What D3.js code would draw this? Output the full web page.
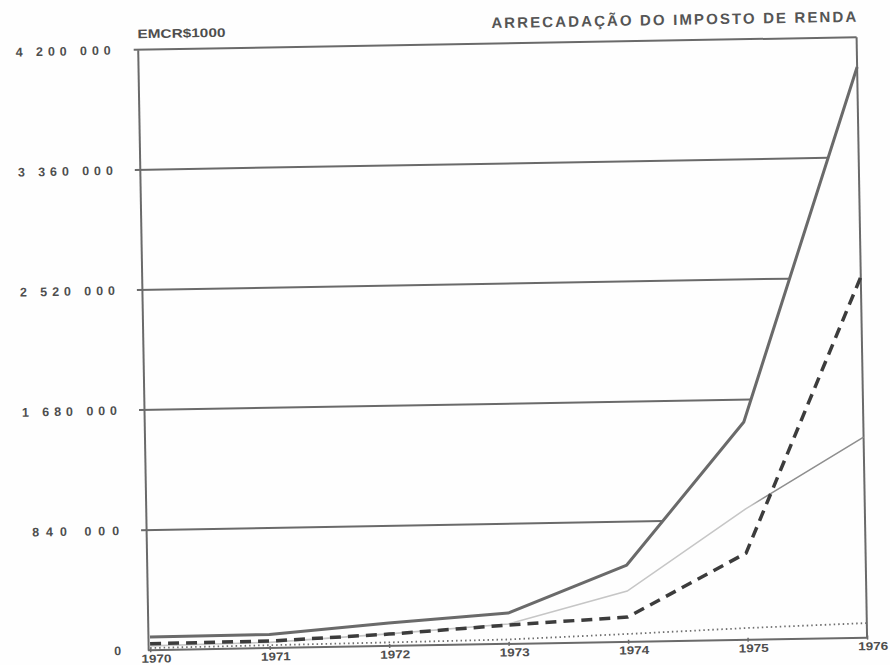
<!DOCTYPE html>
<html>
<head>
<meta charset="utf-8">
<script src="https://cdn.jsdelivr.net/npm/d3@7"></script>
<style>
  html, body { margin: 0; padding: 0; background: #fefefe; }
  svg { display: block; }
  text { font-family: "Liberation Sans", Arial, sans-serif; }
</style>
</head>
<body>
<svg id="chart" width="890" height="665"></svg>
<script>
// ---- data (Cr$ 1000) ----
const years = [1970, 1971, 1972, 1973, 1974, 1975, 1976];
const xTickLabels = ["1970", "1971", "1972", "1973", "1974", "1975", "1976"];
const totalSeries  = [92000, 95000, 160000, 216000, 537000, 1523000, 3992000];
const lightSeries  = [30000, 40000, 85000, 139000, 355000, 914000, 1403000];
const dashedSeries = [45000, 49000, 83000, 132000, 173000, 606000, 2523000];
const dottedSeries = [15000, 20000, 25000, 31000, 55000, 82000, 102000];
const yTicks = [0, 840000, 1680000, 2520000, 3360000, 4200000];
const yTickLabels = ["0", "840 000", "1 680 000", "2 520 000", "3 360 000", "4 200 000"];
const unitLabel = "EMCR$1000";
const titleText = "ARRECADAÇÃO DO IMPOSTO DE RENDA";

// ---- layout ----
const svg = d3.select("#chart");
const root = svg.append("g").attr("transform", "rotate(-1, 500, 350)");

const x = d3.scaleLinear().domain([1970, 1976]).range([145, 862]);
const y = d3.scaleLinear().domain([0, 4200000]).range([644, 43.5]);
const axisX = 143, rightX = 862;

const ink = "#6a6a6a";
const textInk = "#4e4e4e";

// gradient for light series (lighter on the left, darker on the right)
const defs = svg.append("defs");
const grad = defs.append("linearGradient").attr("id", "lightGrad")
  .attr("gradientUnits", "userSpaceOnUse")
  .attr("x1", x(1970)).attr("x2", x(1976)).attr("y1", 0).attr("y2", 0);
grad.append("stop").attr("offset", 0.84).attr("stop-color", "#c6c6c6");
grad.append("stop").attr("offset", 0.86).attr("stop-color", "#8e8e8e");

// gridlines: from axis to the point where the top series reaches the tick value
function crossYear(series, v) {
  for (let i = 0; i < series.length - 1; i++) {
    if (series[i] <= v && series[i + 1] >= v) {
      return years[i] + (v - series[i]) / (series[i + 1] - series[i]) * (years[i + 1] - years[i]);
    }
  }
  return years[years.length - 1];
}
const gridTicks = yTicks.filter(v => v > 0 && v < 4200000);
root.append("g").selectAll("line").data(gridTicks).join("line")
  .attr("x1", axisX - 5).attr("x2", d => x(crossYear(totalSeries, d)))
  .attr("y1", d => y(d)).attr("y2", d => y(d))
  .attr("stroke", ink).attr("stroke-width", 2);

// frame: top, right
root.append("line").attr("x1", axisX - 4).attr("x2", rightX)
  .attr("y1", y(4200000)).attr("y2", y(4200000))
  .attr("stroke", ink).attr("stroke-width", 2);
root.append("line").attr("x1", rightX).attr("x2", rightX)
  .attr("y1", y(4200000)).attr("y2", y(0))
  .attr("stroke", ink).attr("stroke-width", 2);

// Y axis
const yAxis = d3.axisLeft(y).tickValues(yTicks).tickSize(0).tickFormat(() => "");
const yg = root.append("g").attr("transform", `translate(${axisX},0)`).call(yAxis);
yg.select(".domain").attr("stroke", ink).attr("stroke-width", 2);
root.append("g").selectAll("text").data(yTicks).join("text")
  .attr("x", axisX - 27).attr("y", d => y(d)).attr("dy", "0.36em")
  .attr("text-anchor", "end")
  .attr("font-size", 12.5).attr("font-weight", "bold").attr("fill", textInk)
  .each(function (d, i) {
    const s = yTickLabels[i];
    const t = d3.select(this).text(s);
    if (s.length > 1) t.attr("textLength", s.length === 7 ? 87 : 95).attr("lengthAdjust", "spacing");
  });

// X axis
const xAxis = d3.axisBottom(x).tickValues(years).tickSize(4).tickFormat(() => "");
const xg = root.append("g").attr("transform", `translate(0,${y(0) - 2})`).call(xAxis);
xg.select(".domain").remove();
xg.selectAll(".tick line").attr("stroke", ink).attr("stroke-width", 1.5);
root.append("line").attr("x1", axisX).attr("x2", rightX)
  .attr("y1", y(0)).attr("y2", y(0)).attr("stroke", ink).attr("stroke-width", 2);
root.append("g").selectAll("text").data(years).join("text")
  .attr("x", d => x(d) + 6).attr("y", y(0) + 12.5)
  .attr("text-anchor", "middle")
  .attr("font-size", 11.5).attr("font-weight", "bold").attr("fill", textInk)
  .attr("textLength", 30).attr("lengthAdjust", "spacingAndGlyphs")
  .text((d, i) => xTickLabels[i]);

// series
const line = d3.line().x((d, i) => x(years[i])).y(d => y(d));
root.append("path").datum(lightSeries).attr("d", line)
  .attr("fill", "none").attr("stroke", "url(#lightGrad)").attr("stroke-width", 1.6);
root.append("path").datum(dottedSeries).attr("d", line)
  .attr("fill", "none").attr("stroke", "#6e6e6e").attr("stroke-width", 1.8)
  .attr("stroke-dasharray", "1.5 3");
root.append("path").datum(totalSeries).attr("d", line)
  .attr("fill", "none").attr("stroke", ink).attr("stroke-width", 3)
  .attr("stroke-linejoin", "round");
root.append("path").datum(dashedSeries).attr("d", line)
  .attr("fill", "none").attr("stroke", "#3c3c3c").attr("stroke-width", 3.5)
  .attr("stroke-dasharray", "11 7").attr("stroke-linejoin", "round");

// texts
root.append("text").attr("x", axisX).attr("y", 32)
  .attr("font-size", 12.5).attr("font-weight", "bold").attr("fill", textInk)
  .attr("textLength", 88).attr("lengthAdjust", "spacingAndGlyphs")
  .text(unitLabel);
root.append("text").attr("x", rightX).attr("y", 28).attr("text-anchor", "end")
  .attr("font-size", 15).attr("font-weight", "bold").attr("fill", "#555")
  .attr("textLength", 365).attr("lengthAdjust", "spacing")
  .text(titleText);
</script>
</body>
</html>
